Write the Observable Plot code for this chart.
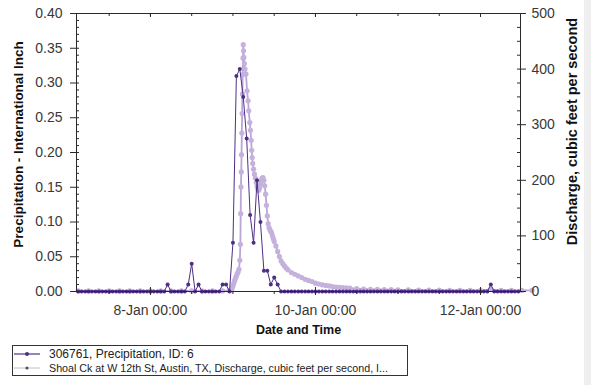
<!DOCTYPE html>
<html><head><meta charset="utf-8">
<script src="https://cdn.jsdelivr.net/npm/d3@7"></script>
<script src="https://cdn.jsdelivr.net/npm/@observablehq/plot@0.6"></script>
<style>
body{margin:0;background:#fff;font-family:"Liberation Sans",Arial,sans-serif;}
#wrap{position:relative;width:591px;height:385px;overflow:hidden;background:#fff;}
#strip{position:absolute;left:584px;top:0;width:7px;height:385px;background:#efefef;}
#chart{position:absolute;left:0;top:0;}
#legend{position:absolute;left:12px;top:345px;width:394px;height:29px;border:1px solid #333;background:#fff;color:#222;}
.row{position:absolute;left:0;height:14px;display:flex;align-items:center;white-space:nowrap;}
.row svg{margin-left:1px;margin-right:9px;}
</style></head><body><div id="wrap"><div id="strip"></div><div id="chart"></div><div id="legend"></div></div>
<script>
// ---- data ----
const xStart = "2012-01-07 02:30", xEnd = "2012-01-12 11:38";
const precipStart = "2012-01-07 03:00", precipEnd = "2012-01-12 11:00"; // hourly record, 0 except below
const precipTimes = ["2012-01-08 05:00","2012-01-08 11:00","2012-01-08 12:00","2012-01-08 14:00",
  "2012-01-08 21:00","2012-01-08 22:00","2012-01-09 00:00","2012-01-09 01:00","2012-01-09 02:00",
  "2012-01-09 03:00","2012-01-09 04:00","2012-01-09 05:00","2012-01-09 06:00","2012-01-09 07:00",
  "2012-01-09 08:00","2012-01-09 09:00","2012-01-09 10:00","2012-01-09 11:00","2012-01-09 12:00",
  "2012-01-09 13:00","2012-01-12 03:00"];
const precipValues = [0.01,0.01,0.04,0.01,0.01,0.01,0.07,0.31,0.32,0.28,0.22,0.11,0.07,0.16,0.10,0.03,0.03,0.01,0.02,0.01,0.01];
// discharge: hours after 8-Jan 00:00, cfs
const dischargeHours = [-21,-18,-15,-12,-9,-6,-3,0,3,6,9,12,15,18,21,23,23.5,23.75,24,24.25,24.5,24.75,25,25.25,25.5,25.75,
  26,26.17,26.25,26.33,26.42,26.5,26.58,26.67,26.75,26.83,26.92,27,27.08,27.17,27.33,27.5,27.8,28.1,28.4,28.6,28.9,29.1,29.3,29.45,29.6,
  29.75,30,30.25,30.5,30.75,31,31.25,31.5,31.75,32,32.25,32.5,32.75,33,33.25,33.5,33.75,34,34.25,34.5,34.75,35,35.25,35.5,35.75,
  36,36.5,37,37.5,38,38.5,39,39.5,40,41,42,43,44,45,46,47,48,49,50,51,52,53,54,55,56,57,58,60,62,64,66,68,70,72,75,78,81,84,87,90,93,96,99,102,105,108,111];
const dischargeCfs = [1,1,1,1,1,1,1,1,1,1,1,1,1,1,1,2,3,5,10,15,20,24,28,32,35,40,
  56,85,140,188,215,246,285,320,355,390,420,444,433,421,410,400,391,361,343,325,304,290,272,254,241,
  230,220,211,204,196,189,184,182,186,193,200,204,205,200,190,175,155,136,122,115,111,108,105,100,95,
  90,82,72,63,55,50,46,42,39,34,31,28,25,22,20,18,15,13.5,12,11,10,9,8,7.5,7,6.5,6,5,4.5,4,3.8,3.5,3.2,3,2.8,2.6,2.5,2.3,2.2,2,2,2,4,2,2,2,2];
const labelTicks = ["2012-01-08 00:00","2012-01-10 00:00","2012-01-12 00:00"];
const precipTickValues = [0,0.05,0.10,0.15,0.20,0.25,0.30,0.35,0.40];
const dischargeTickValues = [0,100,200,300,400,500];
const seriesNames = ["306761, Precipitation, ID: 6","Shoal Ck at W 12th St, Austin, TX, Discharge, cubic feet per second, I..."];

// ---- build ----
const parse = d3.utcParse("%Y-%m-%d %H:%M");
const base = parse("2012-01-08 00:00");
const HOUR = 3600e3;
const nz = new Map(precipTimes.map((t,i)=>[+parse(t), precipValues[i]]));
const precip = d3.utcHours(parse(precipStart), new Date(+parse(precipEnd)+1)).map(t=>({t, v: nz.get(+t) ?? 0}));
const discharge = dischargeHours.map((h,i)=>({t:new Date(+base + h*HOUR), q:dischargeCfs[i]}));
const k = 0.4/500; // right axis (cfs) -> left axis units
const dark = "#4e2f85", light = "#c4b2dc", lightLine = "#b9a5d6";
const W=591, Ht=340, mL=76, mR=71, mT=13, mB=49;
const plotW = W-mL-mR, plotH = Ht-mT-mB;
const x0 = parse(xStart), x1 = parse(xEnd);
const ticks12 = d3.utcHour.every(12).range(x0, x1);
const ticksMajor = labelTicks.map(parse);
const minorLeft = d3.range(0, 41).map(i=>i/100);
const minorRight = d3.range(0, 21).map(i=>i*25*k);
const axisColor = "#2a2a2a";

const chart = Plot.plot({
  width: W, height: Ht, marginLeft: mL, marginRight: mR, marginTop: mT, marginBottom: mB,
  style: {fontFamily: '"Liberation Sans", Arial, sans-serif', fontSize: "14px", color: "#383838", background: "transparent", overflow: "visible"},
  x: {type: "utc", domain: [x0, x1]},
  y: {domain: [0, 0.4]},
  marks: [
    Plot.line(discharge, {x: "t", y: d=>d.q*k, stroke: lightLine, strokeWidth: 1.8}),
    Plot.dot(discharge, {x: "t", y: d=>d.q*k, r: 2.6, fill: light, stroke: null}),
    Plot.line(precip, {x: "t", y: "v", stroke: dark, strokeWidth: 1}),
    Plot.dot(precip, {x: "t", y: "v", r: 2, fill: dark, stroke: null}),
    // minor ticks (inside)
    Plot.tickY(minorLeft, {y: d=>d, insetRight: plotW-3, stroke: axisColor}),
    Plot.tickY(minorRight, {y: d=>d, insetLeft: plotW-3, stroke: axisColor}),
    Plot.tickX(ticks12, {x: d=>d, insetBottom: plotH-3, stroke: axisColor}),
    Plot.tickX(ticksMajor, {x: d=>d, insetBottom: plotH-4, stroke: axisColor}),
    Plot.tickX(ticksMajor, {x: d=>d, insetTop: plotH-4, stroke: axisColor}),
    Plot.frame({stroke: axisColor}),
    Plot.axisY({anchor: "left", ticks: precipTickValues, tickFormat: d3.format(".2f"), tickSize: 6, tickPadding: 8, label: null, stroke: axisColor}),
    Plot.axisY({anchor: "right", ticks: dischargeTickValues.map(v=>v*k), tickFormat: v=>String(Math.round(v/k)), tickSize: 5, tickPadding: 6, label: null, stroke: axisColor}),
    Plot.axisX({anchor: "bottom", ticks: ticks12, tickFormat: ()=>"", tickSize: 3, label: null, stroke: axisColor}),
    Plot.axisX({anchor: "bottom", ticks: ticksMajor, tickFormat: d3.utcFormat("%-d-%b %H:%M"), tickSize: 4, tickPadding: 10, label: null, stroke: axisColor}),
    Plot.text(["Date and Time"], {frameAnchor: "bottom", dy: 38, lineAnchor: "middle", fontWeight: "bold", fontSize: 12.5, fill: "#111"}),
    Plot.text(["Precipitation - International Inch"], {frameAnchor: "left", dx: -58, dy: -8, rotate: -90, textAnchor: "middle", lineAnchor: "middle", fontWeight: "bold", fontSize: 13.5, fill: "#111"}),
    Plot.text(["Discharge, cubic feet per second"], {frameAnchor: "right", dx: 52, dy: -21, rotate: -90, textAnchor: "middle", lineAnchor: "middle", fontWeight: "bold", fontSize: 14.5, fill: "#111"})
  ]
});
document.getElementById("chart").appendChild(chart);

// legend
const lg = document.getElementById("legend");
const legendStyles = [{line: dark, dot: dark, fs: 12}, {line: "#cdc6d6", dot: "#555", fs: 10.7}];
seriesNames.forEach((name, i) => {
  const row = document.createElement("div");
  row.className = "row";
  row.style.top = (i === 0 ? 1 : 15) + "px";
  row.style.fontSize = legendStyles[i].fs + "px";
  row.innerHTML = `<svg width="26" height="8"><line x1="0" x2="26" y1="4" y2="4" stroke="${legendStyles[i].line}" stroke-width="1.2"/><circle cx="13" cy="4" r="${i===0?2:1.6}" fill="${legendStyles[i].dot}"/></svg><span>${name}</span>`;
  lg.appendChild(row);
});
</script></body></html>
